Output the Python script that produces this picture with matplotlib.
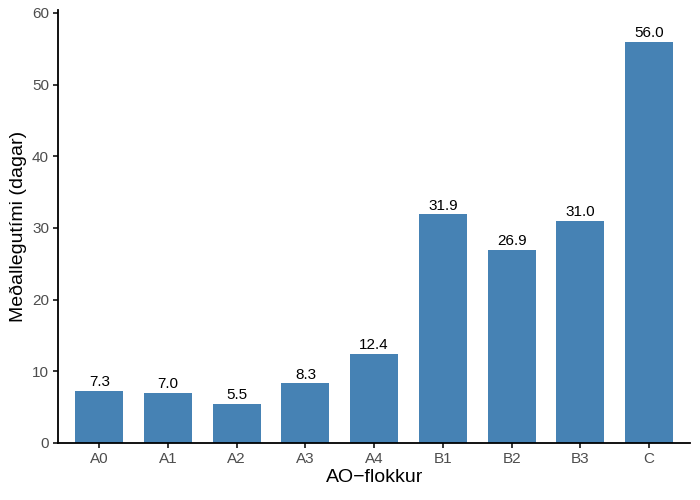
import matplotlib
matplotlib.use('Agg')
from matplotlib import pyplot as plt
import numpy as np

categories = ['A0', 'A1', 'A2', 'A3', 'A4', 'B1', 'B2', 'B3', 'C']
values = [7.3, 7.0, 5.5, 8.3, 12.4, 31.9, 26.9, 31.0, 56.0]
yticks = [0, 10, 20, 30, 40, 50, 60]

plt.rcParams['font.family'] = ['Liberation Sans', 'DejaVu Sans']

fig = plt.figure(figsize=(7, 5), dpi=100)
ax = fig.add_axes([0.083, 0.114, 0.903, 0.866])

x = np.arange(len(categories))
bars = ax.bar(x, values, width=0.7, color='#4682B4')
for xi, v in zip(x, values):
    ax.text(xi, v + 0.25, '%.1f' % v, ha='center', va='bottom', fontsize=11, color='black')

ax.set_xlim(-0.6, len(categories) - 0.4)
ax.set_ylim(0, 60.4)
ax.set_xticks(x)
ax.set_xticklabels(categories)
ax.set_yticks(yticks)
ax.tick_params(axis='both', labelsize=11, labelcolor='#4d4d4d', color='black',
               length=3.5, width=1.1, pad=3)
for s in ['top', 'right']:
    ax.spines[s].set_visible(False)
for s in ['left', 'bottom']:
    ax.spines[s].set_linewidth(1.3)

ax.set_xlabel('AO\u2212flokkur', fontsize=14, labelpad=2)
ax.set_ylabel('Meðallegutími (dagar)', fontsize=14, labelpad=4)

plt.savefig('out.png')
